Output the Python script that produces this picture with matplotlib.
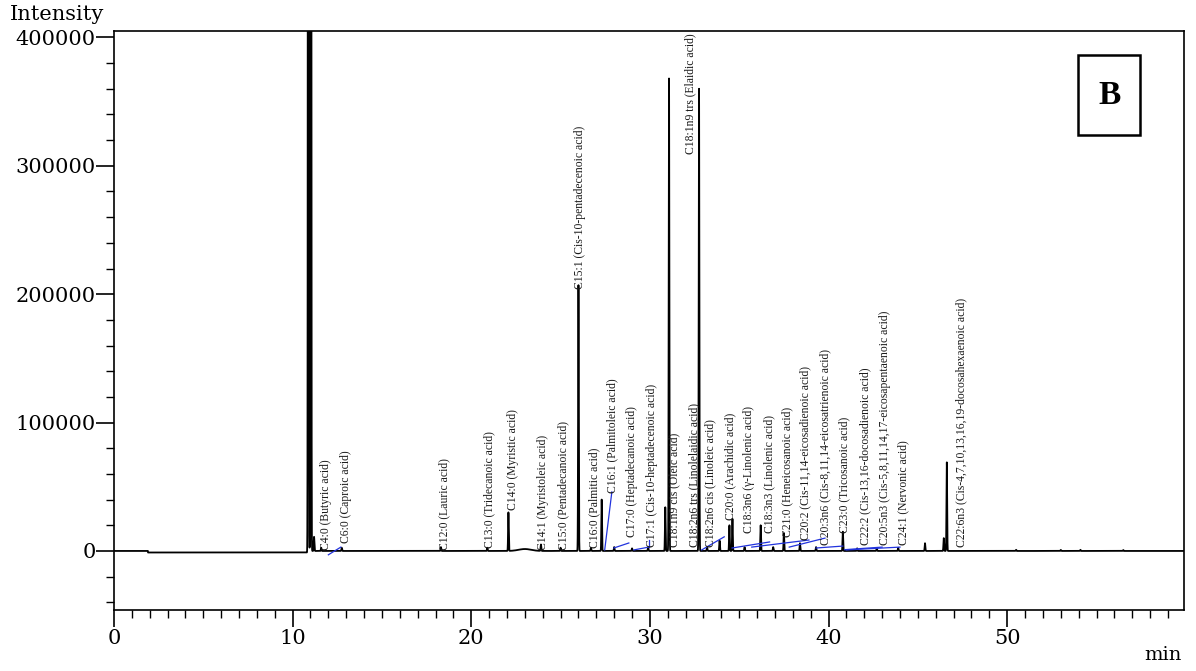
import numpy as np
import matplotlib.pyplot as plt
from matplotlib.patches import Rectangle
from matplotlib.ticker import MultipleLocator

# peak table: retention time (min), height (counts)
peak_rt = [10.88, 11.02, 11.2, 11.6, 12.75, 18.3, 20.9, 22.08, 23.9, 25.0,
           26.0, 26.7, 27.3, 28.0, 29.0, 29.9, 30.86, 31.07, 32.75, 33.2,
           33.9, 34.45, 34.62, 35.3, 36.2, 36.9, 37.5, 38.4, 39.3, 40.8,
           41.6, 42.7, 43.9, 45.4, 46.45, 46.62, 50.5, 53.0, 54.1, 56.5]
peak_height = [2.5e6, 2.5e6, 11000, 2500, 2500, 3000, 2500, 30000, 5000, 2500,
               207000, 2500, 40000, 3000, 2000, 3000, 34000, 368000, 360000, 3000,
               8000, 20000, 25000, 3000, 20000, 3000, 14000, 6000, 3000, 15000,
               2000, 2000, 2500, 6000, 10000, 69000, 900, 800, 900, 700]
peak_sigma = 0.018

# broad low hump under the C14 region
hump_rt = [23.0]
hump_height = [1500]
hump_sigma = [0.35]

# detector baseline level between switch times
drift_t = [0.0, 1.9, 10.85]
drift_level = [0, -1200, 0]

# component labels: name, anchor time, height where the text starts
names = ["C4:0 (Butyric acid)", "C6:0 (Caproic acid)", "C12:0 (Lauric acid)",
         "C13:0 (Tridecanoic acid)", "C14:0 (Myristic acid)",
         "C14:1 (Myristoleic acid)", "C15:0 (Pentadecanoic acid)",
         "C15:1 (Cis-10-pentadecenoic acid)", "C16:0 (Palmitic acid)",
         "C16:1 (Palmitoleic acid)", "C17:0 (Heptadecanoic acid)",
         "C17:1 (Cis-10-heptadecenoic acid)", "C18:1n9 cis (Oleic acid)",
         "C18:2n6 trs (Linolelaidic acid)", "C18:1n9 trs (Elaidic acid)",
         "C18:2n6 cis (Linoleic acid)", "C20:0 (Arachidic acid)",
         "C18:3n6 (γ-Linolenic acid)", "C18:3n3 (Linolenic acid)",
         "C21:0 (Heneicosanoic acid)", "C20:2 (Cis-11,14-eicosadienoic acid)",
         "C20:3n6 (Cis-8,11,14-eicosatrienoic acid)", "C23:0 (Tricosanoic acid)",
         "C22:2 (Cis-13,16-docosadienoic acid)",
         "C20:5n3 (Cis-5,8,11,14,17-eicosapentaenoic acid)",
         "C24:1 (Nervonic acid)",
         "C22:6n3 (Cis-4,7,10,13,16,19-docosahexaenoic acid)"]
label_rt = [11.85, 12.98, 18.48, 21.01, 22.36, 24.04, 25.17, 26.07, 26.91,
            27.87, 28.99, 30.11, 31.35, 32.47, 32.25, 33.37, 34.49, 35.56,
            36.69, 37.70, 38.71, 39.83, 40.90, 42.08, 43.15, 44.16, 47.42]
label_base = [1000, 6000, 1000, 2300, 32000, 1000, 1000, 204000, 2300,
              45000, 11000, 3000, 3000, 3000, 309000, 3000, 24000, 14000,
              14000, 11000, 8500, 4600, 14000, 4600, 4600, 4600, 3000]

# integration baselines (start time, start level, end time, end level)
integ = [(12.0, -3000, 12.7, 3000), (27.47, 800, 27.87, 46000),
         (27.98, 2300, 28.82, 6200), (29.1, 800, 29.94, 3000),
         (29.94, 3000, 29.94, 8500), (32.9, 800, 34.16, 11000),
         (34.6, 2300, 36.7, 7000), (35.7, 3000, 38.9, 8500),
         (37.8, 3000, 39.8, 10000), (39.3, 2300, 40.8, 3800),
         (40.9, 1000, 43.0, 3000), (41.0, 800, 44.0, 3000)]

t = np.arange(0, 60.0005, 0.001)
signal = np.zeros_like(t)
for i, t0 in enumerate(drift_t):
    signal[t >= t0] = drift_level[i]
for rt, h in zip(peak_rt, peak_height):
    signal += h * np.exp(-0.5 * ((t - rt) / peak_sigma) ** 2)
for rt, h, s in zip(hump_rt, hump_height, hump_sigma):
    signal += h * np.exp(-0.5 * ((t - rt) / s) ** 2)

plt.rcParams['font.family'] = ['DejaVu Serif']

fig = plt.figure(figsize=(11.96, 6.71), dpi=100)
ax = fig.add_axes([0.0953, 0.0909, 0.8947, 0.8629])

ax.plot(t, signal, color='black', lw=1.3)

for t0, y0, t1, y1 in integ:
    ax.plot([t0, t1], [y0, y1], color='#2233dd', lw=0.9)

for name, rt, base in zip(names, label_rt, label_base):
    ax.text(rt, base, name, rotation=90, ha='center', va='bottom',
            fontsize=8.4, family='Liberation Serif', color='#1a1a1a')

ax.set_xlim(0, 59.9)
ax.set_ylim(-46000, 405000)
ax.xaxis.set_major_locator(MultipleLocator(10))
ax.xaxis.set_minor_locator(MultipleLocator(1))
ax.yaxis.set_major_locator(MultipleLocator(100000))
ax.yaxis.set_minor_locator(MultipleLocator(20000))
ax.tick_params(which='major', direction='out', length=12, width=1.2,
               labelsize=15, pad=2)
ax.tick_params(which='minor', direction='out', length=6, width=1.0)
ax.tick_params(axis='y', which='major', length=13, pad=0)
for sp in ax.spines.values():
    sp.set_linewidth(1.2)

# sample panel tag
ax.add_patch(Rectangle((0.901, 0.820), 0.058, 0.139, transform=ax.transAxes,
                       fill=False, lw=1.8, ec='black'))
ax.text(0.93, 0.889, "B", transform=ax.transAxes, ha='center', va='center',
        fontsize=24, fontweight='bold', family='Liberation Serif')

fig.text(10 / 1196, 1 - 15 / 671, "Intensity", ha='left', va='center',
         fontsize=15)
fig.text(1182 / 1196, 1 - 655 / 671, "min", ha='right', va='center',
         fontsize=14)

fig.savefig("out.png", dpi=100)
